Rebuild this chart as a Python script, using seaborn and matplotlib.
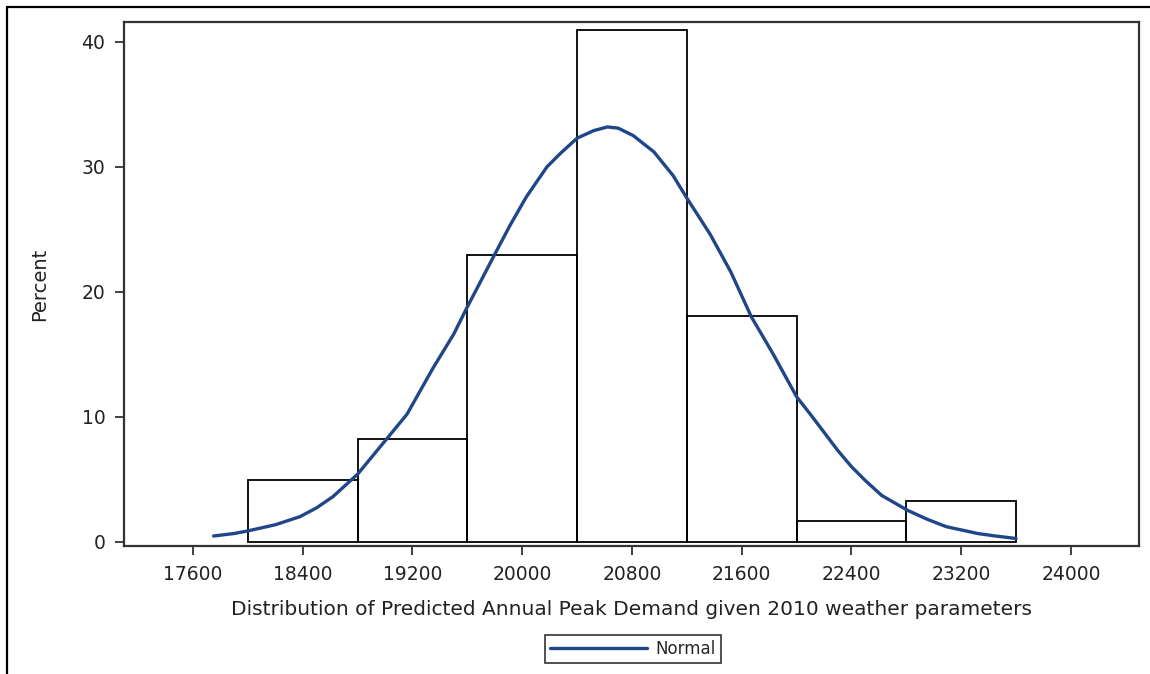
import numpy as np
import pandas as pd
import seaborn as sns
import matplotlib
matplotlib.use("Agg")
import matplotlib.pyplot as plt
from matplotlib.lines import Line2D

# ---- data ----
bin_edges = [18000, 18800, 19600, 20400, 21200, 22000, 22800, 23600]
bin_centers = [18400, 19200, 20000, 20800, 21600, 22400, 23200]
bin_percent = [4.92, 8.20, 22.95, 40.98, 18.03, 1.64, 3.28]

curve_x = [17750, 17900, 18000, 18200, 18380, 18500, 18620, 18800, 19010, 19160,
           19350, 19500, 19600, 19700, 19790, 19910, 20030, 20180, 20280, 20400,
           20520, 20620, 20700, 20810, 20960, 21100, 21200, 21300, 21370, 21520,
           21670, 21830, 22000, 22100, 22190, 22300, 22400, 22500, 22620, 22810,
           22950, 23090, 23320, 23450, 23600]
curve_y = [0.45, 0.65, 0.86, 1.35, 2.0, 2.7, 3.6, 5.4, 8.2, 10.2,
           13.9, 16.6, 18.8, 20.9, 22.8, 25.3, 27.6, 30.0, 31.1, 32.3,
           32.9, 33.2, 33.1, 32.5, 31.2, 29.3, 27.5, 25.8, 24.6, 21.6,
           18.0, 15.0, 11.6, 10.2, 8.9, 7.3, 6.0, 4.9, 3.7, 2.5,
           1.8, 1.2, 0.65, 0.45, 0.25]

x_ticks = [17600, 18400, 19200, 20000, 20800, 21600, 22400, 23200, 24000]
y_ticks = [0, 10, 20, 30, 40]
x_label = "Distribution of Predicted Annual Peak Demand given 2010 weather parameters"
y_label = "Percent"
legend_label = "Normal"

sns.set_style("white")
plt.rcParams['font.family'] = ['DejaVu Sans']

fig = plt.figure(figsize=(11.5, 6.74), dpi=100)
ax = fig.add_axes([124/1150, 1-546/674, (1139-124)/1150, (546-22)/674])

hist_df = pd.DataFrame({"x": bin_centers, "w": bin_percent})
sns.histplot(data=hist_df, x="x", weights="w", bins=bin_edges, fill=False,
             color="black", linewidth=1.3, ax=ax, element="bars")

curve_df = pd.DataFrame({"x": curve_x, "y": curve_y})
sns.lineplot(data=curve_df, x="x", y="y", color="#1F4689", linewidth=2.4,
             ax=ax, label=legend_label, sort=False)

ax.set_xlim(17097, 24496)
ax.set_ylim(-0.35, 41.6)
ax.set_xticks(x_ticks)
ax.set_yticks(y_ticks)
ax.tick_params(axis="both", direction="out", length=6.5, width=1.3,
               color="#333333", labelsize=13.5, labelcolor="#222222",
               bottom=True, left=True)
ax.tick_params(axis="x", pad=7)
ax.tick_params(axis="y", pad=7)
for s in ax.spines.values():
    s.set_color("#333333")
    s.set_linewidth(1.6)

ax.set_xlabel(x_label, fontsize=14.5, color="#222222")
ax.set_ylabel(y_label, fontsize=14, color="#222222")
ax.xaxis.set_label_coords(0.5, -0.104)
ax.yaxis.set_label_coords(-0.074, 0.5)

leg = ax.legend(loc="center", bbox_to_anchor=(633/1150, 1-648.5/674),
                bbox_transform=fig.transFigure, frameon=True, fancybox=False,
                fontsize=12, handlelength=5.8, borderpad=0.3,
                handletextpad=0.5, borderaxespad=0)
leg.get_frame().set_edgecolor("black")
leg.get_frame().set_linewidth(1.2)

# outer frame (left and top edges of the screenshot)
fig.add_artist(Line2D([7/1150, 7/1150], [0, 1-7/674], color="black", linewidth=1.6,
                      transform=fig.transFigure))
fig.add_artist(Line2D([7/1150, 1], [1-7/674, 1-7/674], color="black", linewidth=1.6,
                      transform=fig.transFigure))

fig.savefig("out.png", dpi=100)
